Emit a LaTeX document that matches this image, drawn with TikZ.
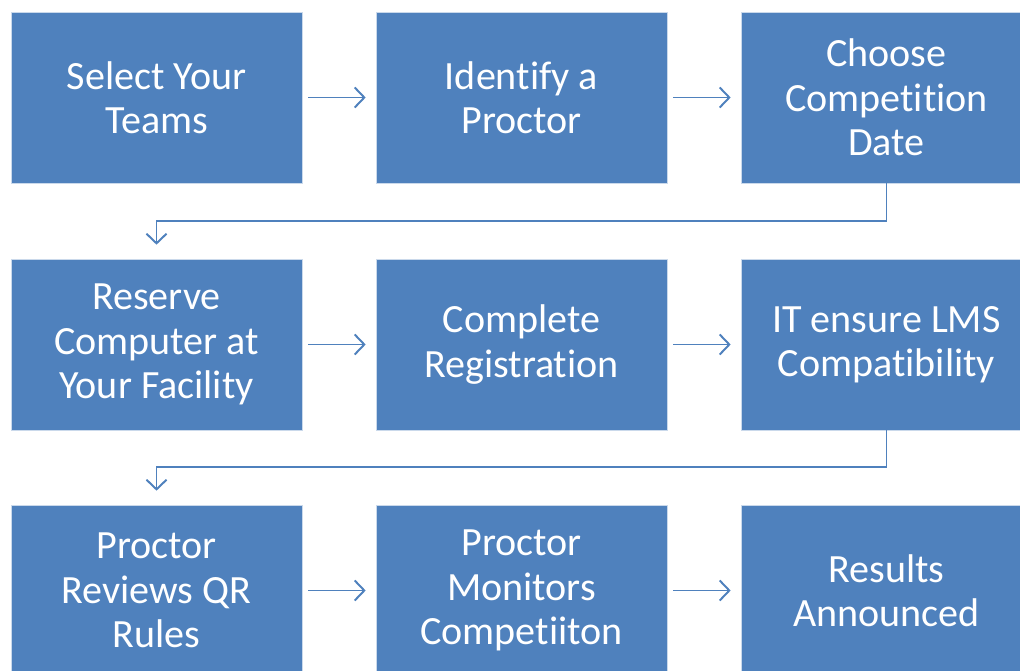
\documentclass[tikz,border=0pt]{standalone}
\usepackage{fontspec}
\setmainfont{Carlito}[Ligatures=NoCommon]
\usepackage{tikz}
\usetikzlibrary{positioning, arrows.meta}
\definecolor{stepblue}{HTML}{4F81BD}

\begin{document}
\begin{tikzpicture}[
			% GLOBAL CFG
			x=0.025cm, y=-0.025cm,
			font=\fontsize{28.5}{31.6}\selectfont,
			% Styles
			stepbox/.style={% For the blue boxes
				rectangle,
				draw=white!70!stepblue,
				line width=0.4pt,
				fill=stepblue,
				text=white,
				align=center,
				minimum width=7.275cm,
				minimum height=4.275cm,
				inner sep=0pt,
			},
			ArrowH/.style={% Straight arrows between boxes
				-{Straight Barb[length=2.4mm, width=5mm]},
				draw=stepblue,
				line width=1.4pt,
				shorten <=0.15cm,
				shorten >=0.25cm,
			},
			ArrowE/.style={% Elbow arrows to the next row
				-{Straight Barb[length=2.4mm, width=5mm]},
				draw=stepblue,
				line width=1.4pt,
				shorten >=0.35cm,
			},
			]
			% Fix the size of the picture
			\useasboundingbox (0,0) rectangle (1020,671);
			\clip (0,0) rectangle (1020,671);
			
			% Draw the first row
			\node [stepbox] (select) at (156.5,97.5) {Select Your\\Teams};
			\node [stepbox] (proctor) at (521.5,97.5) {Identify a\\Proctor};
			\node [stepbox] (date) at (886.5,97.5) {Choose\\Competition\\Date};
			
			% Draw the second row
			\node [stepbox] (reserve) at (156.5,344.5) {Reserve\\Computer at\\Your Facility};
			\node [stepbox] (register) at (521.5,344.5) {Complete\\Registration};
			\node [stepbox] (lms) at (886.5,344.5) {IT ensure LMS\\Compatibility};
			
			% Draw the third row
			\node [stepbox] (rules) at (156.5,590.5) {Proctor\\Reviews QR\\Rules};
			\node [stepbox] (monitor) at (521.5,590.5) {Proctor\\Monitors\\Competiiton};
			\node [stepbox] (results) at (886.5,590.5) {Results\\Announced};
			
			% Drawing arrows
			\draw [ArrowH] (select) -- (proctor);
			\draw [ArrowH] (proctor) -- (date);
			\draw [ArrowE] (date.south) -- ++(0,38) -| (reserve.north);
			\draw [ArrowH] (reserve) -- (register);
			\draw [ArrowH] (register) -- (lms);
			\draw [ArrowE] (lms.south) -- ++(0,37) -| (rules.north);
			\draw [ArrowH] (rules) -- (monitor);
			\draw [ArrowH] (monitor) -- (results);
			
		\end{tikzpicture}
\end{document}
